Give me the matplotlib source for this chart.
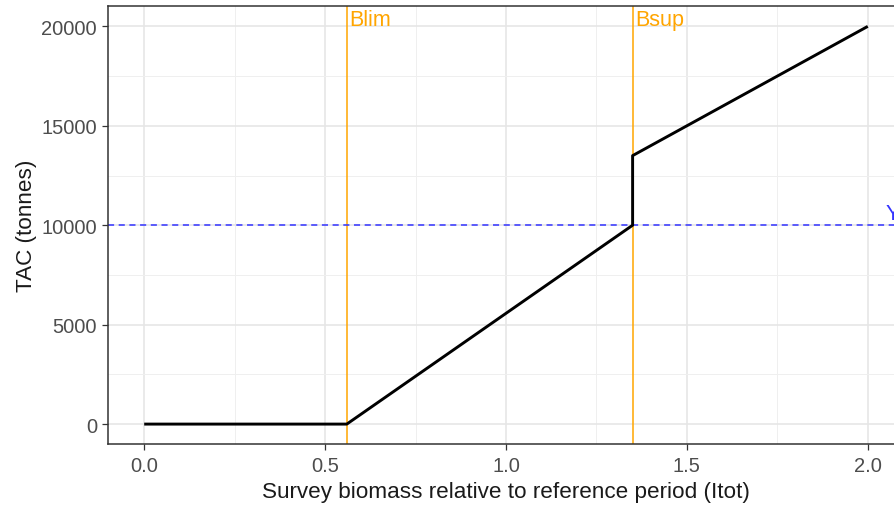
import matplotlib
matplotlib.use("Agg")
import matplotlib.pyplot as plt
from matplotlib.ticker import MultipleLocator

# Harvest control rule: TAC as a function of relative survey biomass
biomass = [0.0, 0.56, 1.35, 1.35, 2.0]
tac = [0, 0, 10000, 13500, 20000]

blim = 0.56
bsup = 1.35
ytrig = 10000

x_ticks = [0.0, 0.5, 1.0, 1.5, 2.0]
x_tick_labels = ["0.0", "0.5", "1.0", "1.5", "2.0"]
y_ticks = [0, 5000, 10000, 15000, 20000]
y_tick_labels = ["0", "5000", "10000", "15000", "20000"]

plt.rcParams["font.family"] = ["Liberation Sans", "DejaVu Sans"]

fig = plt.figure(figsize=(8.95, 5.06), dpi=100)
ax = fig.add_axes([0.1207, 0.1206, 0.8893, 0.8646])

ax.set_xlim(-0.1, 2.1)
ax.set_ylim(-1000, 21000)

# theme_bw-like grid
ax.set_xticks(x_ticks)
ax.set_xticklabels(x_tick_labels)
ax.set_yticks(y_ticks)
ax.set_yticklabels(y_tick_labels)
ax.xaxis.set_minor_locator(MultipleLocator(0.25))
ax.yaxis.set_minor_locator(MultipleLocator(2500))
ax.grid(which="major", color="#E6E6E6", lw=1.2)
ax.grid(which="minor", color="#EFEFEF", lw=0.7)
ax.set_axisbelow(True)
ax.tick_params(which="minor", length=0)
ax.tick_params(which="major", length=4, width=0.9, color="#333333",
               labelsize=14.5, labelcolor="#4D4D4D", pad=4)
ax.tick_params(axis="x", pad=5)
for sp in ax.spines.values():
    sp.set_color("#333333")
    sp.set_linewidth(1.1)

# Reference points
ax.axvline(blim, color="#FFA500", lw=1.1, zorder=2)
ax.axvline(bsup, color="#FFA500", lw=1.1, zorder=2)
ax.axhline(ytrig, color="#3333FF", lw=1.1, ls=(0, (4, 3)), zorder=2)

ax.text(blim + 0.006, 21000 - 120, "Blim", color="#FFA500", fontsize=15.5,
        ha="left", va="top")
ax.text(bsup + 0.006, 21000 - 120, "Bsup", color="#FFA500", fontsize=15.5,
        ha="left", va="top")
ax.text(2.05, ytrig + 50, "Ytrig", color="#3333FF", fontsize=15.5,
        ha="left", va="bottom", clip_on=False)

ax.plot(biomass, tac, color="black", lw=2.1, zorder=3, solid_capstyle="butt")

ax.set_xlabel("Survey biomass relative to reference period (Itot)",
              fontsize=16.2, color="#1A1A1A", labelpad=4)
ax.set_ylabel("TAC (tonnes)", fontsize=16.2, color="#1A1A1A", labelpad=3)

fig.savefig("out.png", dpi=100)
